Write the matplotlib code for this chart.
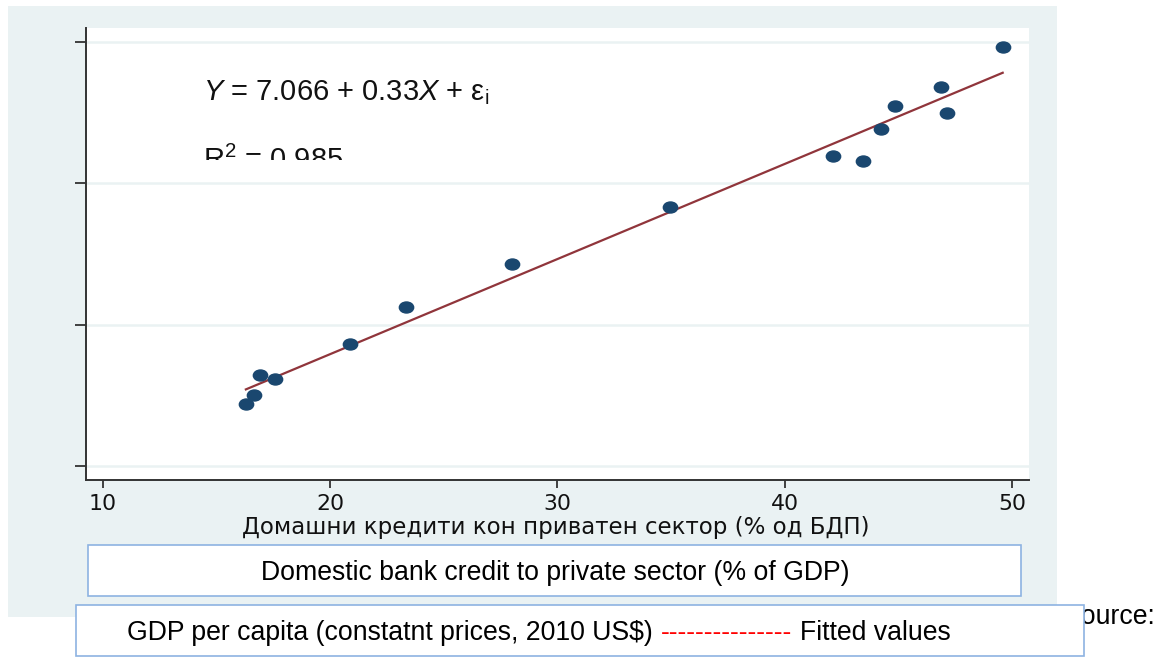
import numpy as np
import matplotlib
matplotlib.use('Agg')
import matplotlib.pyplot as plt
from matplotlib.patches import Rectangle
from matplotlib.path import Path
from matplotlib.transforms import Affine2D, Bbox, TransformedBbox

# domestic bank credit to private sector (% of GDP) and GDP per capita
credit = [16.30, 16.67, 16.93, 17.56, 20.86, 23.32, 28.02, 34.95,
          42.12, 43.44, 44.22, 44.83, 46.87, 47.14, 49.58]
gdp = [11.94, 12.24, 12.94, 12.79, 14.02, 15.30, 16.79, 18.77,
       20.54, 20.35, 21.46, 22.26, 22.94, 22.04, 24.31]
intercept = 7.066
slope = 0.33
r_squared = 0.985
x_ticks = [10, 20, 30, 40, 50]
y_ticks = [9.78, 14.69, 19.60, 24.49]

plt.rcParams['mathtext.fontset'] = 'custom'
plt.rcParams['mathtext.rm'] = 'Liberation Sans'
plt.rcParams['mathtext.it'] = 'Liberation Sans:italic'

W, H = 1160, 657
fig = plt.figure(figsize=(W / 100, H / 100), dpi=100)
fig.patch.set_facecolor('white')


def fx(px):
    return px / W


def fy(py):
    return 1 - py / H


def box(x0, y0, x1, y1, **kw):
    r = Rectangle((fx(x0), fy(y1)), fx(x1) - fx(x0), fy(y0) - fy(y1),
                  transform=fig.transFigure, **kw)
    fig.add_artist(r)
    return r


# stata-style graph region
box(8, 6, 1057, 617, facecolor='#eaf2f3', edgecolor='none', zorder=-1)

ax = fig.add_axes([fx(86), fy(479.5), fx(1029.3) - fx(86), fy(28) - fy(479.5)])
ax.set_facecolor('white')

# slightly wide ellipse marker
ell = Path.unit_circle().transformed(Affine2D().scale(1.3, 1.0))
ax.plot(credit, gdp, linestyle='none', marker=ell, markersize=10.3,
        color='#1a476f', zorder=3)

xs = np.array([min(credit), max(credit)])
ax.plot(xs, intercept + slope * xs, color='#90353b', lw=1.6, zorder=2)

ax.set_xlim(9.27, 50.75)
ax.set_ylim(9.32, 24.98)
ax.set_xticks(x_ticks)
ax.set_yticks(y_ticks)
ax.set_yticklabels([])
ax.grid(axis='y', color='#eaf2f3', lw=1.8)
ax.set_axisbelow(True)

for s in ['top', 'right']:
    ax.spines[s].set_visible(False)
for s in ['left', 'bottom']:
    ax.spines[s].set_color('#333333')
    ax.spines[s].set_linewidth(1.4)

ax.tick_params(axis='y', length=8, width=1.2, color='#222222')
ax.tick_params(axis='x', length=5.5, width=1.2, color='#222222', pad=5,
               labelsize=15.8, labelcolor='#111111')
for lb in ax.get_xticklabels():
    lb.set_family('DejaVu Sans')

fig.text(fx(556), fy(534), 'Домашни кредити кон приватен сектор (% од БДП)',
         family='DejaVu Sans', fontsize=16.5, ha='center', va='baseline',
         color='#111111')

# regression equation
fig.text(fx(203), fy(100), r'$Y$ = 7.066 + 0.33$X$ + ε$_\mathrm{i}$',
         family='Liberation Sans', fontsize=21, va='baseline', color='#111111')
r2 = fig.text(fx(203), fy(169), 'R$^2$ = %.3f' % r_squared,
              family='Liberation Sans', fontsize=21, va='baseline', color='#111111')
r2.set_clip_box(TransformedBbox(Bbox([[0, fy(160)], [1, 1]]), fig.transFigure))

# caption boxes
fs = 19.2
box(88, 545, 1021, 596, facecolor='white', edgecolor='#8db3e2', lw=1.2, zorder=2)
fig.text(fx(555), fy(579.5), 'Domestic bank credit to private sector (% of GDP)',
         family='Liberation Sans', fontsize=fs, ha='center', va='baseline',
         zorder=3)

fig.text(fx(1155), fy(624), 'Source:', family='Liberation Sans', fontsize=fs,
         ha='right', va='baseline', zorder=1)
box(76, 605, 1084, 656, facecolor='white', edgecolor='#8db3e2', lw=1.2, zorder=2)

renderer = fig.canvas.get_renderer()
gap = 8
t1 = fig.text(fx(127), fy(640), 'GDP per capita (constatnt prices, 2010 US\\$)',
              family='Liberation Sans', fontsize=fs, va='baseline', zorder=3)
x1 = t1.get_window_extent(renderer).x1
t2 = fig.text((x1 + gap) / W, fy(640), '-' * 15, family='Liberation Sans',
              fontsize=fs, va='baseline', color='#ff0000', zorder=3)
x2 = t2.get_window_extent(renderer).x1
fig.text((x2 + gap) / W, fy(640), 'Fitted values', family='Liberation Sans',
         fontsize=fs, va='baseline', zorder=3)

fig.savefig('out.png', dpi=100)
